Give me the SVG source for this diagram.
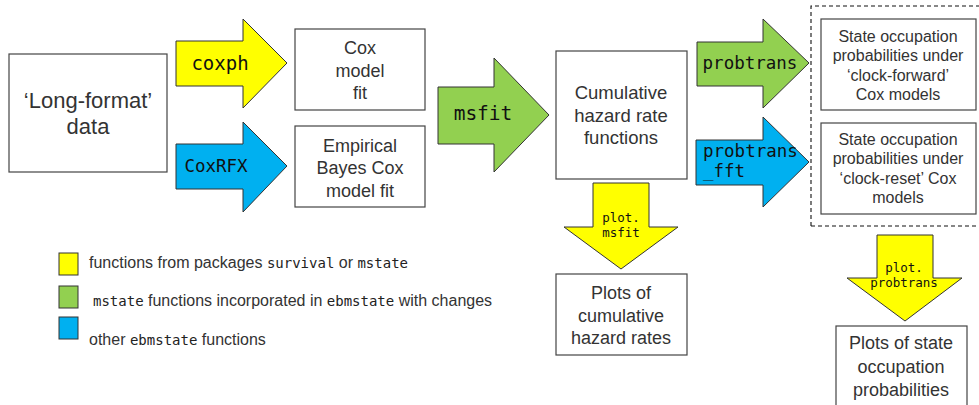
<svg xmlns="http://www.w3.org/2000/svg" width="979" height="405" viewBox="0 0 979 405">
<style>
.box{fill:#fff;stroke:#444;stroke-width:1.2}
.t{font-family:"Liberation Sans",Arial,sans-serif;fill:#333;text-anchor:middle}
.m{font-family:"DejaVu Sans Mono","Liberation Mono",monospace;fill:#111}
.ar{stroke:#333;stroke-width:1}
.y{fill:#ffff00}.g{fill:#92d050}.b{fill:#00b0f0}
.lg{font-family:"Liberation Sans",Arial,sans-serif;fill:#333;font-size:16px}
.lm{font-family:"DejaVu Sans Mono","Liberation Mono",monospace;fill:#222;font-size:14px}
</style>
<rect width="979" height="405" fill="#fff"/>
<g id="long-format">
<rect class="box" x="9" y="54" width="158" height="118"/>
<text class="t" font-size="22" x="88" y="108">‘Long-format’</text>
<text class="t" font-size="22" x="88" y="134">data</text>
</g>
<g id="cox-fit">
<rect class="box" x="295" y="29" width="130" height="81"/>
<text class="t" font-size="18" x="360" y="54">Cox</text>
<text class="t" font-size="18" x="360" y="77">model</text>
<text class="t" font-size="18" x="360" y="99">fit</text>
</g>
<g id="eb-cox-fit">
<rect class="box" x="295" y="126" width="130" height="81"/>
<text class="t" font-size="18" x="360" y="152">Empirical</text>
<text class="t" font-size="18" x="360" y="174">Bayes Cox</text>
<text class="t" font-size="18" x="360" y="197">model fit</text>
</g>
<g id="cumhaz">
<rect class="box" x="556" y="51" width="131" height="128"/>
<text class="t" font-size="18.5" x="621" y="99">Cumulative</text>
<text class="t" font-size="18.5" x="621" y="122">hazard rate</text>
<text class="t" font-size="18.5" x="621" y="144">functions</text>
</g>
<g id="state-group">
<path d="M811 226 V6 H979 M811 226 H979" fill="none" stroke="#111" stroke-width="1.1" stroke-dasharray="4,3"/>
</g>
<g id="state-forward">
<rect class="box" x="821" y="19" width="155" height="91"/>
<text class="t" font-size="16" x="898" y="42">State occupation</text>
<text class="t" font-size="16" x="898" y="61">probabilities under</text>
<text class="t" font-size="16" x="898" y="81">‘clock-forward’</text>
<text class="t" font-size="16" x="898" y="100">Cox models</text>
</g>
<g id="state-reset">
<rect class="box" x="821" y="123" width="155" height="91"/>
<text class="t" font-size="16" x="898" y="145">State occupation</text>
<text class="t" font-size="16" x="898" y="164">probabilities under</text>
<text class="t" font-size="16" x="898" y="184">‘clock-reset’ Cox</text>
<text class="t" font-size="16" x="898" y="203">models</text>
</g>
<g id="plot-cumhaz">
<rect class="box" x="556" y="274" width="131" height="81"/>
<text class="t" font-size="18" x="621" y="299">Plots of</text>
<text class="t" font-size="18" x="621" y="322">cumulative</text>
<text class="t" font-size="18" x="621" y="344">hazard rates</text>
</g>
<g id="plot-state">
<rect class="box" x="836" y="326" width="131" height="90"/>
<text class="t" font-size="18" x="901" y="349">Plots of state</text>
<text class="t" font-size="18" x="901" y="373">occupation</text>
<text class="t" font-size="18" x="901" y="396">probabilities</text>
</g>
<g id="connectors">
<g id="coxph">
<polygon class="ar y" points="176,41 243,41 243,19 287,63 243,108 243,86 176,86"/>
<text class="m" font-size="19" x="220" y="70" text-anchor="middle">coxph</text>
</g>
<g id="coxrfx">
<polygon class="ar b" points="176,144 243,144 243,122 287,166 243,212 243,189 176,189"/>
<text class="m" font-size="17.5" x="216" y="172" text-anchor="middle">CoxRFX</text>
</g>
<g id="msfit">
<polygon class="ar g" points="438,87 494,87 494,58 549,115 494,172 494,144 438,144"/>
<text class="m" font-size="19.5" x="483" y="120" text-anchor="middle">msfit</text>
</g>
<g id="probtrans">
<polygon class="ar g" points="697,42 763,42 763,19 809,63 763,108 763,86 697,86"/>
<text class="m" font-size="17.5" x="750" y="69" text-anchor="middle">probtrans</text>
</g>
<g id="probtrans-fft">
<polygon class="ar b" points="696,140 763,140 763,117 809,162 763,207 763,185 696,185"/>
<text class="m" font-size="17.5" x="703" y="157">probtrans</text>
<text class="m" font-size="17.5" x="703" y="177">_fft</text>
</g>
<g id="plot-msfit">
<polygon class="ar y" points="593,183 649,183 649,227 678,227 621,269 564,227 593,227"/>
<text class="m" font-size="12.5" x="621" y="222" text-anchor="middle">plot.</text>
<text class="m" font-size="12.5" x="621" y="237" text-anchor="middle">msfit</text>
</g>
<g id="plot-probtrans">
<polygon class="ar y" points="877,235 933,235 933,278 962,278 905,321 847,278 877,278"/>
<text class="m" font-size="12.5" x="904" y="272" text-anchor="middle">plot.</text>
<text class="m" font-size="12.5" x="904" y="287" text-anchor="middle">probtrans</text>
</g>
</g>
<g id="legend">
<rect class="ar y" x="59" y="253" width="19" height="22"/>
<rect class="ar g" x="59" y="286" width="19" height="22"/>
<rect class="ar b" x="59" y="317" width="19" height="22"/>
<text x="89" y="268"><tspan class="lg">functions from packages </tspan><tspan class="lm">survival</tspan><tspan class="lg"> or </tspan><tspan class="lm">mstate</tspan></text>
<text x="93" y="306"><tspan class="lm">mstate</tspan><tspan class="lg"> functions incorporated in </tspan><tspan class="lm">ebmstate</tspan><tspan class="lg"> with changes</tspan></text>
<text x="89" y="345"><tspan class="lg">other </tspan><tspan class="lm">ebmstate</tspan><tspan class="lg"> functions</tspan></text>
</g>
</svg>
